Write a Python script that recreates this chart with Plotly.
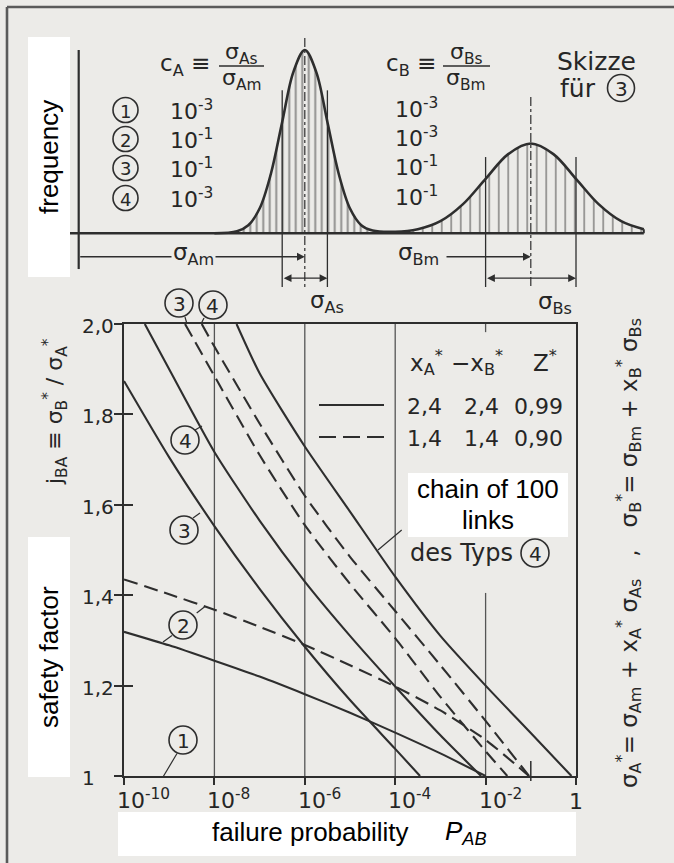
import plotly.graph_objects as go

W, H = 674, 863
BG = "#ecebe8"
INK = "#2e2e2e"
DIN = "DejaVu Sans, Liberation Sans, sans-serif"
ARIAL = "Liberation Sans, Arial, sans-serif"

# ---------------- data: lower chart ----------------
# x = log10 of failure probability P_AB, y = safety factor j_BA
x_tick_exp = [-10, -8, -6, -4, -2, 0]
x_tick_labels = ["10<sup>-10</sup>", "10<sup>-8</sup>", "10<sup>-6</sup>",
                 "10<sup>-4</sup>", "10<sup>-2</sup>", "1"]
y_tick_vals = [1.0, 1.2, 1.4, 1.6, 1.8, 2.0]
y_tick_labels = ["1", "1,2", "1,4", "1,6", "1,8", "2,0"]

c2_sol_x = [-10, -9, -8, -7, -6, -5, -4, -3, -2]
c2_sol_y = [1.319, 1.289, 1.255, 1.220, 1.181, 1.140, 1.096, 1.050, 1.0]
c3_sol_x = [-10, -9, -8, -7, -6, -5, -4, -3.45]
c3_sol_y = [1.874, 1.705, 1.553, 1.414, 1.286, 1.168, 1.060, 1.0]
c4_sol_x = [-9.54, -9, -8, -7, -6, -5, -4, -3, -2.1]
c4_sol_y = [2.0, 1.90, 1.717, 1.565, 1.43, 1.31, 1.198, 1.09, 1.0]
chain_x = [-7.51, -7, -6, -5, -4, -3, -2, -1, -0.1]
chain_y = [2.0, 1.891, 1.729, 1.585, 1.441, 1.31, 1.2, 1.095, 1.0]
c2_dash_x = [-10, -9, -8, -7, -6, -5, -4, -3, -2, -1.04]
c2_dash_y = [1.435, 1.402, 1.368, 1.330, 1.290, 1.245, 1.198, 1.145, 1.080, 1.0]
c3_dash_x = [-8.65, -8, -7, -6, -5, -4, -3, -2, -1.52]
c3_dash_y = [2.0, 1.885, 1.71, 1.555, 1.425, 1.305, 1.175, 1.055, 1.0]
c4_dash_x = [-8.28, -8, -7, -6, -5, -4, -3, -2, -1.04]
c4_dash_y = [2.0, 1.95, 1.78, 1.62, 1.485, 1.365, 1.245, 1.122, 1.0]

# ---------------- data: upper sketch (frequency distributions) ----------------
freq_x = [-8.0, -7.5, -7.25, -7.0, -6.75, -6.5, -6.25, -6.0, -5.75, -5.5, -5.25, -5.0,
          -4.75, -4.5, -4.0, -3.5, -3.0, -2.5, -2.0, -1.5, -1.0, -0.5, 0.0, 0.5, 1.0, 1.5]
freq_y = [0.0, 0.011, 0.044, 0.135, 0.325, 0.607, 0.882, 1.0, 0.882, 0.607, 0.325, 0.135,
          0.044, 0.015, 0.008, 0.022, 0.066, 0.159, 0.297, 0.432, 0.49, 0.432, 0.297, 0.159,
          0.066, 0.022]
split_A = 14  # points belonging to distribution A
mean_A, sd_A = -6.0, 0.5
mean_B, sd_B = -1.0, 1.0
cA_values = ["-3", "-1", "-1", "-3"]
cB_values = ["-3", "-3", "-1", "-1"]

# ---------------- geometry helpers ----------------
L_PX, R_PX, T_PX, B_PX = 124, 576, 324, 776
DEC = (R_PX - L_PX) / 10.0
def X(px): return px / W
def Y(py): return 1 - py / H
def xpx(e): return L_PX + (e + 10) * DEC
def ypx(v): return B_PX - (v - 1) * (B_PX - T_PX)

BASE_PY, PEAK_PY = 233.3, 50.0
FU = BASE_PY - PEAK_PY
x2_range = [-10 - L_PX / DEC, -10 + (W - L_PX) / DEC]
y2_range = [(BASE_PY - 302) / FU, BASE_PY / FU]

fig = go.Figure()

def lower_line(xs, ys, dash="solid"):
    fig.add_trace(go.Scatter(x=[10 ** v for v in xs], y=ys, mode="lines",
                             line=dict(color=INK, width=2.1, dash=dash, shape="spline", smoothing=0.6),
                             xaxis="x", yaxis="y", hoverinfo="skip", showlegend=False))

# grid lines
for e in [-8, -6, -4]:
    fig.add_trace(go.Scatter(x=[10.0 ** e] * 2, y=[1, 2], mode="lines",
                             line=dict(color="#555", width=1.3), showlegend=False, hoverinfo="skip"))
fig.add_trace(go.Scatter(x=[1e-2] * 2, y=[1, 1.405], mode="lines",
                         line=dict(color="#555", width=1.3), showlegend=False, hoverinfo="skip"))
fig.add_trace(go.Scatter(x=[1e-2] * 2, y=[1.982, 2.0], mode="lines",
                         line=dict(color="#555", width=1.3), showlegend=False, hoverinfo="skip"))

lower_line(c2_sol_x, c2_sol_y)
lower_line(c3_sol_x, c3_sol_y)
lower_line(c4_sol_x, c4_sol_y)
lower_line(chain_x, chain_y)
D = "14px,7px"
lower_line(c2_dash_x, c2_dash_y, D)
lower_line(c3_dash_x, c3_dash_y, D)
lower_line(c4_dash_x, c4_dash_y, D)

# upper sketch
fig.add_trace(go.Scatter(x=freq_x[:split_A], y=freq_y[:split_A], mode="lines", fill="tozeroy",
                         line=dict(width=0, shape="spline"), fillcolor="rgba(0,0,0,0)",
                         fillpattern=dict(shape="|", size=6.5, solidity=0.3, fgcolor="#333",
                                          bgcolor="rgba(0,0,0,0)"),
                         xaxis="x2", yaxis="y2", showlegend=False, hoverinfo="skip"))
fig.add_trace(go.Scatter(x=freq_x[split_A - 1:], y=freq_y[split_A - 1:], mode="lines", fill="tozeroy",
                         line=dict(width=0, shape="spline"), fillcolor="rgba(0,0,0,0)",
                         fillpattern=dict(shape="|", size=9.5, solidity=0.18, fgcolor="#333",
                                          bgcolor="rgba(0,0,0,0)"),
                         xaxis="x2", yaxis="y2", showlegend=False, hoverinfo="skip"))
fig.add_trace(go.Scatter(x=freq_x, y=freq_y, mode="lines", line=dict(color=INK, width=2.6, shape="spline"),
                         xaxis="x2", yaxis="y2", showlegend=False, hoverinfo="skip"))

def up_seg(x0, y0, x1, y1, w=1.3, dash="solid"):
    fig.add_trace(go.Scatter(x=[x0, x1], y=[y0, y1], mode="lines", line=dict(color=INK, width=w, dash=dash),
                             xaxis="x2", yaxis="y2", showlegend=False, hoverinfo="skip"))

ax_x = -10 + (78.7 - L_PX) / DEC
up_seg(ax_x, -0.195, ax_x, 1.0, w=2.2)
up_seg(-10 + (70 - L_PX) / DEC, 0, freq_x[-1], 0, w=2.4)
up_seg(freq_x[-1], 0, freq_x[-1], freq_y[-1], w=2)
for xv in [mean_A - sd_A, mean_A + sd_A]:
    up_seg(xv, 0.78, xv, -0.293, w=1.3)
for xv in [mean_B - sd_B, mean_B + sd_B]:
    up_seg(xv, 0.416, xv, -0.293, w=1.3)
up_seg(mean_A, 1.065, mean_A, -0.293, w=1.2, dash="dashdot")
up_seg(mean_B, 0.743, mean_B, -0.293, w=1.2, dash="dashdot")

ann = []
shapes = []

def T(text, px, py, size=22, family=DIN, xa="center", ya="middle", color="#262626", angle=0, bg=None):
    d = dict(text=text, x=X(px), y=Y(py), xref="paper", yref="paper", showarrow=False,
             xanchor=xa, yanchor=ya, textangle=angle, font=dict(family=family, size=size, color=color))
    if bg:
        d["bgcolor"] = bg
    ann.append(d)

def seg(x0, y0, x1, y1, w=1.3, dash="solid", color=INK):
    shapes.append(dict(type="line", xref="paper", yref="paper", x0=X(x0), y0=Y(y0), x1=X(x1), y1=Y(y1),
                       line=dict(color=color, width=w, dash=dash), layer="above"))

def box(x0, y0, x1, y1):
    shapes.append(dict(type="rect", xref="paper", yref="paper", x0=X(x0), y0=Y(y1), x1=X(x1), y1=Y(y0),
                       fillcolor="white", line=dict(width=0), layer="above"))

def circ(cx, cy, d, label, size=19):
    r = d / 2
    shapes.append(dict(type="circle", xref="paper", yref="paper", x0=X(cx - r), x1=X(cx + r),
                       y0=Y(cy + r), y1=Y(cy - r), line=dict(color=INK, width=1.6), layer="above"))
    T(label, cx, cy + 1, size=size)

def arrow(x_head, y_head, x_tail, y_tail, both=False):
    ann.append(dict(text="", x=x_head, y=y_head, ax=x_tail, ay=y_tail, xref="x2", yref="y2",
                    axref="x2", ayref="y2", showarrow=True, arrowhead=2, arrowsize=1.2, arrowwidth=1.3,
                    arrowcolor=INK, arrowside="end+start" if both else "end", standoff=0, startstandoff=0))

# outer frame
seg(7, 863, 7, 7, w=2.6, color="#5a5a5a")
seg(7, 7, 674, 7, w=2.6, color="#5a5a5a")

# arrows upper sketch
arrow(mean_A, -0.128, ax_x, -0.128)
arrow(mean_B, -0.128, -10 + (445 - L_PX) / DEC, -0.128)
arrow(mean_A + sd_A, -0.245, mean_A - sd_A, -0.245, both=True)
arrow(mean_B + sd_B, -0.245, mean_B - sd_B, -0.245, both=True)

# upper texts
T("c<sub>A</sub> ≡", 212, 65, size=23, xa="right")
T("σ<sub>As</sub>", 241, 53, size=22)
T("σ<sub>Am</sub>", 241, 79, size=22)
seg(219, 66, 264, 66, w=1.6)
T("c<sub>B</sub> ≡", 438, 65, size=23, xa="right")
T("σ<sub>Bs</sub>", 466, 53, size=22)
T("σ<sub>Bm</sub>", 466, 79, size=22)
seg(443, 66, 490, 66, w=1.6)
rows = [110, 139, 168, 198]
for i, r in enumerate(rows):
    circ(125.5, r, 25, str(i + 1), size=18)
    T("10<sup>%s</sup>" % cA_values[i], 168, r, size=22, xa="left")
    T("10<sup>%s</sup>" % cB_values[i], 393, r - 2, size=22, xa="left")
T("Skizze", 596, 61, size=25)
T("für", 578, 88, size=25)
circ(621, 88, 27, "3", size=20)
T("σ<sub>Am</sub>", 193, 254, size=23, bg=BG)
T("σ<sub>Bm</sub>", 418, 254, size=23)
T("σ<sub>As</sub>", 327, 302, size=23)
T("σ<sub>Bs</sub>", 555, 303, size=23)

# lower plot labels
circ(179, 303, 28, "3", size=20)
circ(213, 305, 28, "4", size=20)
seg(185, 317, 187, 324, w=1.2)
seg(204, 318, 201, 324, w=1.2)
circ(185, 440, 28, "4", size=20)
seg(195, 430, 202, 426, w=1.2)
circ(184, 530, 28, "3", size=20)
seg(193, 518, 200, 513, w=1.2)
circ(183, 625, 28, "2", size=20)
seg(196.7, 613, 205, 606.5, w=1.2)
seg(172, 635.5, 163, 642, w=1.2)
circ(183, 740, 28, "1", size=20)
seg(177, 753.5, 163, 777, w=1.2)

# legend table
T("x<sub>A</sub><sup>*</sup>", 427, 362, size=23)
T("−x<sub>B</sub><sup>*</sup>", 477, 362, size=23)
T("Z<sup>*</sup>", 545, 361, size=23)
for txt, px in zip(["2,4", "2,4", "0,99"], [424, 481, 538]):
    T(txt, px, 407, size=22)
for txt, px in zip(["1,4", "1,4", "0,90"], [424, 481, 538]):
    T(txt, px, 438, size=22)
seg(319, 405, 384, 405, w=2.1)
seg(319, 437, 386, 437, w=2.1, dash="17px,7px")

box(408, 473, 568, 537)
T("chain of 100", 488, 489, size=26, family=ARIAL, color="black")
T("links", 488, 520, size=26, family=ARIAL, color="black")
T("des Typs", 408, 553, size=24, xa="left")
circ(535, 553, 28, "4", size=20)
seg(401.7, 530, 378, 550, w=1.2)

# 10^-1 end mark
seg(xpx(-1), 761, xpx(-1), 781, w=1.5)

# tick labels
for v, lbl in zip(y_tick_vals, y_tick_labels):
    T(lbl, 80, ypx(v) + 2, size=20, xa="left")
for e, lbl in zip(x_tick_exp, x_tick_labels):
    if lbl == "1":
        T(lbl, xpx(e), 801, size=22)
    else:
        T(lbl, xpx(e) - 9, 799, size=22, xa="left")

# rotated formula labels
T("j<sub>BA</sub> ≡ σ<sub>B</sub><sup>*</sup> / σ<sub>A</sub><sup>*</sup>", 55, 412, size=22, angle=-90)
T("σ<sub>A</sub><sup>*</sup>= σ<sub>Am</sub> + x<sub>A</sub><sup>*</sup> σ<sub>As</sub>   ,   "
  "σ<sub>B</sub><sup>*</sup>= σ<sub>Bm</sub> + x<sub>B</sub><sup>*</sup> σ<sub>Bs</sub>",
  628, 553, size=23, angle=-90)

# english label boxes
box(28, 37, 70, 277)
T("frequency", 49, 157, size=26, family=ARIAL, color="black", angle=-90)
box(28, 537, 70, 777)
T("safety factor", 49, 657, size=26, family=ARIAL, color="black", angle=-90)
box(118, 812, 576, 856)
T("failure probability", 310, 832, size=26, family=ARIAL, color="black")
T("<i>P<sub>AB</sub></i>", 443, 832, size=26, family=ARIAL, color="black", xa="left")

fig.update_layout(
    width=W, height=H, margin=dict(l=0, r=0, t=0, b=0),
    paper_bgcolor=BG, plot_bgcolor=BG, showlegend=False,
    xaxis=dict(type="log", range=[-10, 0], domain=[X(L_PX), X(R_PX)], anchor="y",
               showgrid=False, zeroline=False, showline=True, mirror=True, linecolor=INK, linewidth=2,
               ticks="outside", ticklen=7, tickwidth=2, tickcolor=INK,
               tickvals=[10.0 ** e for e in x_tick_exp], showticklabels=False),
    yaxis=dict(range=[1, 2], domain=[Y(B_PX), Y(T_PX)], anchor="x",
               showgrid=False, zeroline=False, showline=True, mirror=True, linecolor=INK, linewidth=2,
               ticks="outside", ticklen=8, tickwidth=2, tickcolor=INK, tickvals=y_tick_vals,
               showticklabels=False),
    yaxis3=dict(range=[1, 2], overlaying="y", anchor="x", side="left", showgrid=False, zeroline=False,
                showline=False, ticks="inside", ticklen=9, tickwidth=2, tickcolor=INK,
                tickvals=y_tick_vals[1:-1], showticklabels=False),
    xaxis2=dict(range=x2_range, domain=[0, 1], anchor="y2", visible=False),
    yaxis2=dict(range=y2_range, domain=[Y(302), 1], anchor="x2", visible=False),
    annotations=ann, shapes=shapes,
)
fig.add_trace(go.Scatter(x=[1e-5], y=[1.5], mode="markers", marker=dict(opacity=0), yaxis="y3",
                         showlegend=False, hoverinfo="skip"))

fig.write_html("out.html", config={"displayModeBar": False},
               post_script="document.body.style.margin='0';document.body.style.padding='0';document.body.style.overflow='hidden';")
